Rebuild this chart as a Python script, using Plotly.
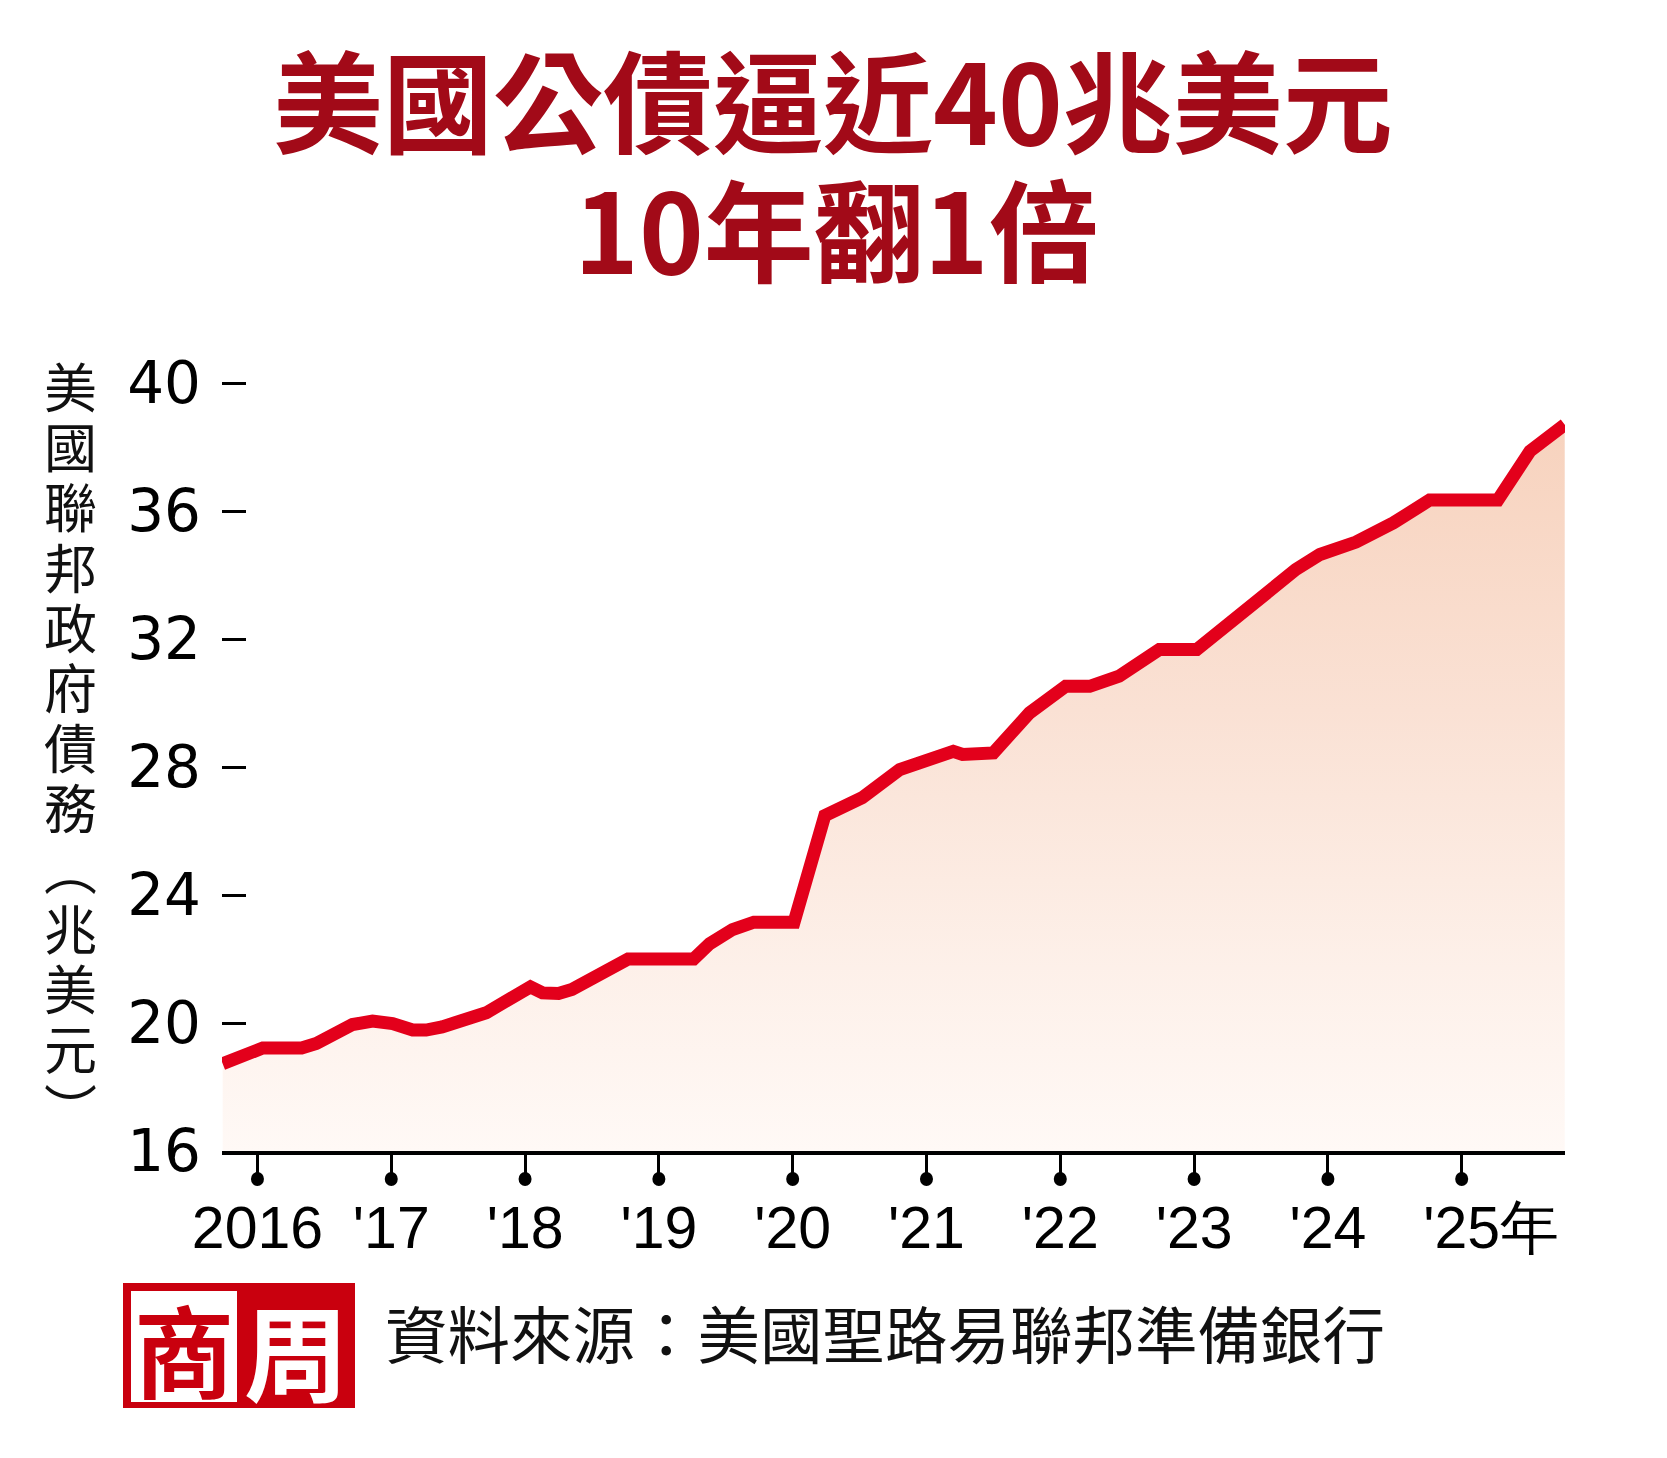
import plotly.graph_objects as go

# ---------------- data ----------------
years = [2015.74, 2016.04, 2016.33, 2016.44, 2016.71, 2016.86, 2017.01, 2017.16,
         2017.26, 2017.38, 2017.71, 2018.04, 2018.13, 2018.25, 2018.35, 2018.55,
         2018.77, 2019.26, 2019.38, 2019.55, 2019.71, 2020.01, 2020.24, 2020.52,
         2020.75, 2020.80, 2021.20, 2021.27, 2021.50, 2021.77, 2022.04, 2022.22,
         2022.44, 2022.74, 2023.02, 2023.29, 2023.52, 2023.76, 2023.94, 2024.21,
         2024.49, 2024.76, 2025.27, 2025.51, 2025.77]
debt = [18.73, 19.22, 19.22, 19.36, 19.95, 20.06, 19.98, 19.78,
        19.78, 19.88, 20.32, 21.13, 20.94, 20.92, 21.05, 21.55,
        22.00, 22.00, 22.48, 22.92, 23.15, 23.15, 26.48, 27.04,
        27.82, 27.92, 28.49, 28.39, 28.44, 29.69, 30.52, 30.52,
        30.84, 31.67, 31.67, 32.61, 33.39, 34.17, 34.64, 35.03,
        35.63, 36.34, 36.34, 37.87, 38.70]

tick_years = [2016, 2017, 2018, 2019, 2020, 2021, 2022, 2023, 2024, 2025]
tick_text = ["2016", "'17", "'18", "'19", "'20", "'21", "'22", "'23", "'24",
             "\u3000'25年"]
y_ticks = [16, 20, 24, 28, 32, 36, 40]

title_1 = "美國公債逼近40兆美元"
title_2 = "10年翻1倍"
y_title_chars = ["美", "國", "聯", "邦", "政", "府", "債", "務", "︵", "兆", "美", "元", "︶"]
source_text = "資料來源：美國聖路易聯邦準備銀行"
logo_left, logo_right = "商", "周"

# ---------------- layout geometry ----------------
W, H = 1667, 1458
ML, MR, MT, MB = 222, 102, 351, 307
PW, PH = W - ML - MR, H - MT - MB
X_RANGE = [2015.735, 2025.772]
Y_RANGE = [16, 41]


def pxx(x):
    return (x - ML) / PW


def pxy(y):
    return (H - MB - y) / PH


CJK = "Noto Sans CJK TC"
TITLE_RED = "#A20A18"
LINE_RED = "#E3001B"
LOGO_RED = "#C9000E"

fig = go.Figure()

fig.add_trace(go.Scatter(
    x=years, y=debt, mode="lines",
    line=dict(color=LINE_RED, width=13),
    fill="tozeroy",
    fillgradient=dict(type="vertical",
                      colorscale=[[0, "#FFF9F6"], [0.25, "#FDF0E9"],
                                  [0.6, "#FAE1D4"], [1, "#F7D2BD"]],
                      start=16, stop=39),
    hoverinfo="skip", showlegend=False,
))

y_title_html = "<br>".join(
    '<span style="font-size:53px">%s</span>' % ch for ch in y_title_chars)

annotations = [
    dict(text=title_1, x=pxx(833), y=pxy(97), xref="paper", yref="paper",
         xanchor="center", yanchor="middle", showarrow=False,
         font=dict(family=CJK, size=110, color=TITLE_RED, weight="bold")),
    dict(text=title_2, x=pxx(836), y=pxy(226), xref="paper", yref="paper",
         xanchor="center", yanchor="middle", showarrow=False,
         font=dict(family=CJK, size=110, color=TITLE_RED, weight="bold")),
    dict(text=source_text, x=pxx(383), y=pxy(1331), xref="paper", yref="paper",
         xanchor="left", yanchor="middle", showarrow=False,
         font=dict(family=CJK, size=62.5, color="#111111")),
    dict(text=logo_left, x=pxx(184), y=pxy(1347), xref="paper", yref="paper",
         xanchor="center", yanchor="middle", showarrow=False,
         font=dict(family=CJK, size=100, color=LOGO_RED, weight="bold")),
    dict(text=logo_right, x=pxx(296), y=pxy(1348), xref="paper", yref="paper",
         xanchor="center", yanchor="middle", showarrow=False,
         font=dict(family=CJK, size=104, color="white", weight="bold")),
    # vertical y-axis title, one character per line (line pitch from base size)
    dict(text=y_title_html, x=pxx(70), y=pxy(746),
         xref="paper", yref="paper", xanchor="center", yanchor="middle",
         showarrow=False,
         font=dict(family=CJK, size=46.3, color="#111111")),
]

shapes = [
    dict(type="rect", xref="paper", yref="paper",
         x0=pxx(123), x1=pxx(355), y0=pxy(1283), y1=pxy(1408),
         fillcolor=LOGO_RED, line=dict(width=0), layer="above"),
    dict(type="rect", xref="paper", yref="paper",
         x0=pxx(131), x1=pxx(237), y0=pxy(1291), y1=pxy(1402),
         fillcolor="white", line=dict(width=0), layer="above"),
]
# decorative dots at the end of every x tick
years_per_px = (X_RANGE[1] - X_RANGE[0]) / PW
for yr in tick_years:
    shapes.append(dict(
        type="circle", xref="x", yref="paper",
        x0=yr - 6.5 * years_per_px, x1=yr + 6.5 * years_per_px,
        y0=pxy(1186), y1=pxy(1172),
        fillcolor="black", line=dict(width=0), layer="above"))

fig.update_layout(
    width=W, height=H,
    margin=dict(l=ML, r=MR, t=MT, b=MB, pad=0),
    paper_bgcolor="white", plot_bgcolor="white",
    showlegend=False,
    annotations=annotations,
    shapes=shapes,
    xaxis=dict(
        range=X_RANGE,
        showline=True, linewidth=4, linecolor="black",
        ticks="outside", ticklen=20, tickwidth=2.5, tickcolor="black",
        tickvals=tick_years, ticktext=tick_text, tickangle=0,
        tickfont=dict(family="Liberation Sans, Arial, sans-serif",
                      size=59, color="black"),
        ticklabelstandoff=2,
        showgrid=False, zeroline=False, fixedrange=True,
    ),
    yaxis=dict(
        range=Y_RANGE,
        showline=False,
        ticks="inside", ticklen=24, tickwidth=3, tickcolor="black",
        tickvals=y_ticks,
        tickfont=dict(family="DejaVu Sans", size=58, color="black"),
        ticklabelstandoff=20,
        showgrid=False, zeroline=False, fixedrange=True,
    ),
)

fig.write_html("out.html")
